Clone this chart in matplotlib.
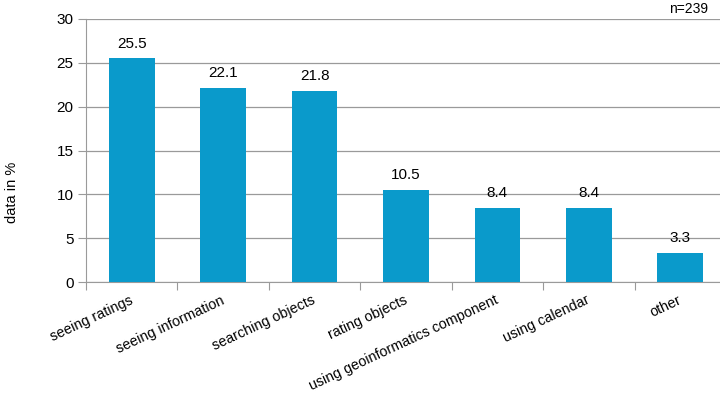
import matplotlib.pyplot as plt

categories = [
    "seeing ratings",
    "seeing information",
    "searching objects",
    "rating objects",
    "using geoinformatics component",
    "using calendar",
    "other",
]
values = [25.5, 22.1, 21.8, 10.5, 8.4, 8.4, 3.3]
y_ticks = [0, 5, 10, 15, 20, 25, 30]

plt.rcParams["font.family"] = ["Liberation Sans", "DejaVu Sans"]

fig = plt.figure(figsize=(7.2, 3.95), dpi=100)
ax = fig.add_axes([86 / 720, 1 - 282 / 395, 640 / 720, 263 / 395])

x = list(range(len(categories)))
ax.bar(x, values, width=0.5, color="#0a9acb", zorder=3)
for xi, v in zip(x, values):
    ax.text(xi, v + 0.9, f"{v:.1f}", ha="center", va="bottom", fontsize=11)

ax.set_xlim(-0.5, len(categories) - 0.5)
ax.set_ylim(0, 30)
ax.set_yticks(y_ticks)
ax.yaxis.grid(True, color="#9a9a9a", linewidth=0.9, zorder=0)
ax.tick_params(axis="y", labelsize=11, length=6, color="#9a9a9a", pad=3)

ax.set_xticks([i - 0.5 for i in range(len(categories) + 1)])
ax.set_xticklabels([])
ax.tick_params(axis="x", length=6, color="#9a9a9a")
for xi, name in zip(x, categories):
    ax.annotate(name, xy=(xi, 0), xycoords="data", xytext=(-2, -8),
                textcoords="offset points", rotation=25, ha="right", va="top",
                rotation_mode="anchor", fontsize=10.3)

for side in ["top", "right"]:
    ax.spines[side].set_visible(False)
for side in ["left", "bottom"]:
    ax.spines[side].set_color("#9a9a9a")

fig.text(12 / 720, 1 - 192 / 395, "data in %", rotation=90, ha="center", va="center", fontsize=10.5)
fig.text(708 / 720, 1 - 9 / 395, "n=239", ha="right", va="center", fontsize=10)

fig.savefig("out.png", dpi=100)
